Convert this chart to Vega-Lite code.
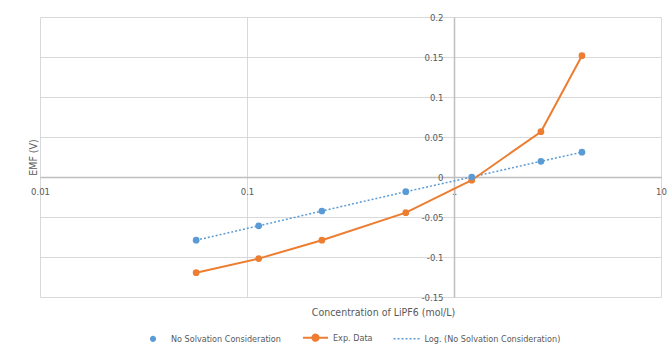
{
  "$schema": "https://vega.github.io/schema/vega-lite/v6.json",
  "width": 621,
  "height": 280,
  "autosize": {"type": "none"},
  "padding": {"left": 40, "top": 17, "right": 6, "bottom": 48},
  "background": "white",
  "config": {
    "view": {"stroke": null},
    "font": "Liberation Sans",
    "axis": {
      "gridColor": "#d9d9d9",
      "gridWidth": 1,
      "domainColor": "#bfbfbf",
      "domainWidth": 1.5,
      "ticks": false,
      "labelColor": "#595959",
      "labelFontSize": 9.5,
      "titleColor": "#595959",
      "titleFontSize": 10.5,
      "titleFontWeight": "normal",
      "labelFont": "DejaVu Sans Condensed",
      "titleFont": "DejaVu Sans Condensed",
      "labelOverlap": false
    }
  },
  "data": {
    "values": [
      {"series": "No Solvation Consideration", "c": 0.0568, "emf": -0.079},
      {"series": "No Solvation Consideration", "c": 0.1139, "emf": -0.061},
      {"series": "No Solvation Consideration", "c": 0.230, "emf": -0.0425},
      {"series": "No Solvation Consideration", "c": 0.585, "emf": -0.0184},
      {"series": "No Solvation Consideration", "c": 1.218, "emf": 0.0},
      {"series": "No Solvation Consideration", "c": 2.63, "emf": 0.0196},
      {"series": "No Solvation Consideration", "c": 4.15, "emf": 0.031},
      {"series": "Exp. Data", "c": 0.0568, "emf": -0.1196},
      {"series": "Exp. Data", "c": 0.1139, "emf": -0.102},
      {"series": "Exp. Data", "c": 0.230, "emf": -0.079},
      {"series": "Exp. Data", "c": 0.585, "emf": -0.0446},
      {"series": "Exp. Data", "c": 1.218, "emf": -0.004},
      {"series": "Exp. Data", "c": 2.63, "emf": 0.0566},
      {"series": "Exp. Data", "c": 4.15, "emf": 0.1516}
    ]
  },
  "encoding": {
    "x": {
      "field": "c", "type": "quantitative",
      "scale": {"type": "log", "domain": [0.01, 10], "nice": false},
      "axis": {
        "values": [0.01, 0.1, 1, 10],
        "labelExpr": "'' + datum.value",
        "labelOverlap": false,
        "offset": -120,
        "labelPadding": 9,
        "labelFlush": false,
        "title": "Concentration of LiPF6 (mol/L)",
        "titleX": 343,
        "titleY": 135,
        "titleBaseline": "middle"
      }
    },
    "y": {
      "field": "emf", "type": "quantitative",
      "scale": {"domain": [-0.15, 0.2], "nice": false, "zero": false},
      "axis": {
        "values": [-0.15, -0.1, -0.05, 0, 0.05, 0.1, 0.15, 0.2],
        "labelExpr": "'' + datum.value",
        "labelOverlap": false,
        "labelBound": false,
        "offset": -414,
        "labelPadding": 11,
        "title": "EMF (V)",
        "titleX": -421,
        "titleY": 140,
        "titleBaseline": "middle",
        "titleAlign": "center"
      }
    }
  },
  "layer": [
    {
      "transform": [{"filter": "datum.series === 'No Solvation Consideration'"}],
      "mark": {"type": "line", "strokeDash": [2, 2], "strokeWidth": 1.5},
      "encoding": {
        "color": {
          "datum": "Log. (No Solvation Consideration)",
          "type": "nominal",
          "scale": {
            "domain": ["No Solvation Consideration", "Exp. Data", "Log. (No Solvation Consideration)"],
            "range": ["#5B9BD5", "#ED7D31", "#5B9BD5"]
          },
          "legend": {
            "title": null,
            "orient": "none",
            "direction": "horizontal",
            "legendX": 100.5,
            "legendY": 316,
            "labelColor": "#595959",
            "labelFontSize": 9,
            "labelFont": "DejaVu Sans Condensed",
            "columnPadding": 17.5,
            "symbolSize": 784,
            "encode": {
              "symbols": {
                "update": {
                  "x": {"signal": "datum.value === 'Log. (No Solvation Consideration)' ? 14 : 12.5"},
                  "shape": {"signal": "datum.value === 'Log. (No Solvation Consideration)' ? 'stroke' : 'M-1,0L1,0M0.25,0A0.25,0.25,0,1,1,-0.25,0A0.25,0.25,0,1,1,0.25,0Z'"},
                  "size": {"signal": "datum.value === 'Log. (No Solvation Consideration)' ? 784 : 625"},
                  "fill": {"signal": "datum.value === 'Log. (No Solvation Consideration)' ? 'transparent' : scale('color', datum.value)"},
                  "stroke": {"signal": "scale('color', datum.value)"},
                  "strokeOpacity": {"signal": "datum.value === 'No Solvation Consideration' ? 0 : 1"},
                  "strokeWidth": {"signal": "datum.value === 'Exp. Data' ? 2 : 1.5"},
                  "strokeDash": {"signal": "datum.value === 'Log. (No Solvation Consideration)' ? [2, 2] : [1, 0]"},
                  "opacity": {"value": 1}
                }
              },
              "labels": {
                "update": {
                  "x": {"signal": "datum.value === 'No Solvation Consideration' ? 30.5 : (datum.value === 'Exp. Data' ? 30 : 31)"}
                }
              }
            }
          }
        }
      }
    },
    {
      "transform": [{"filter": "datum.series === 'Exp. Data'"}],
      "mark": {"type": "line", "strokeWidth": 2, "point": {"filled": true, "size": 45, "opacity": 1}},
      "encoding": {
        "color": {"datum": "Exp. Data", "type": "nominal"}
      }
    },
    {
      "transform": [{"filter": "datum.series === 'No Solvation Consideration'"}],
      "mark": {"type": "point", "filled": true, "size": 45, "opacity": 1},
      "encoding": {
        "color": {"datum": "No Solvation Consideration", "type": "nominal"}
      }
    }
  ]
}
